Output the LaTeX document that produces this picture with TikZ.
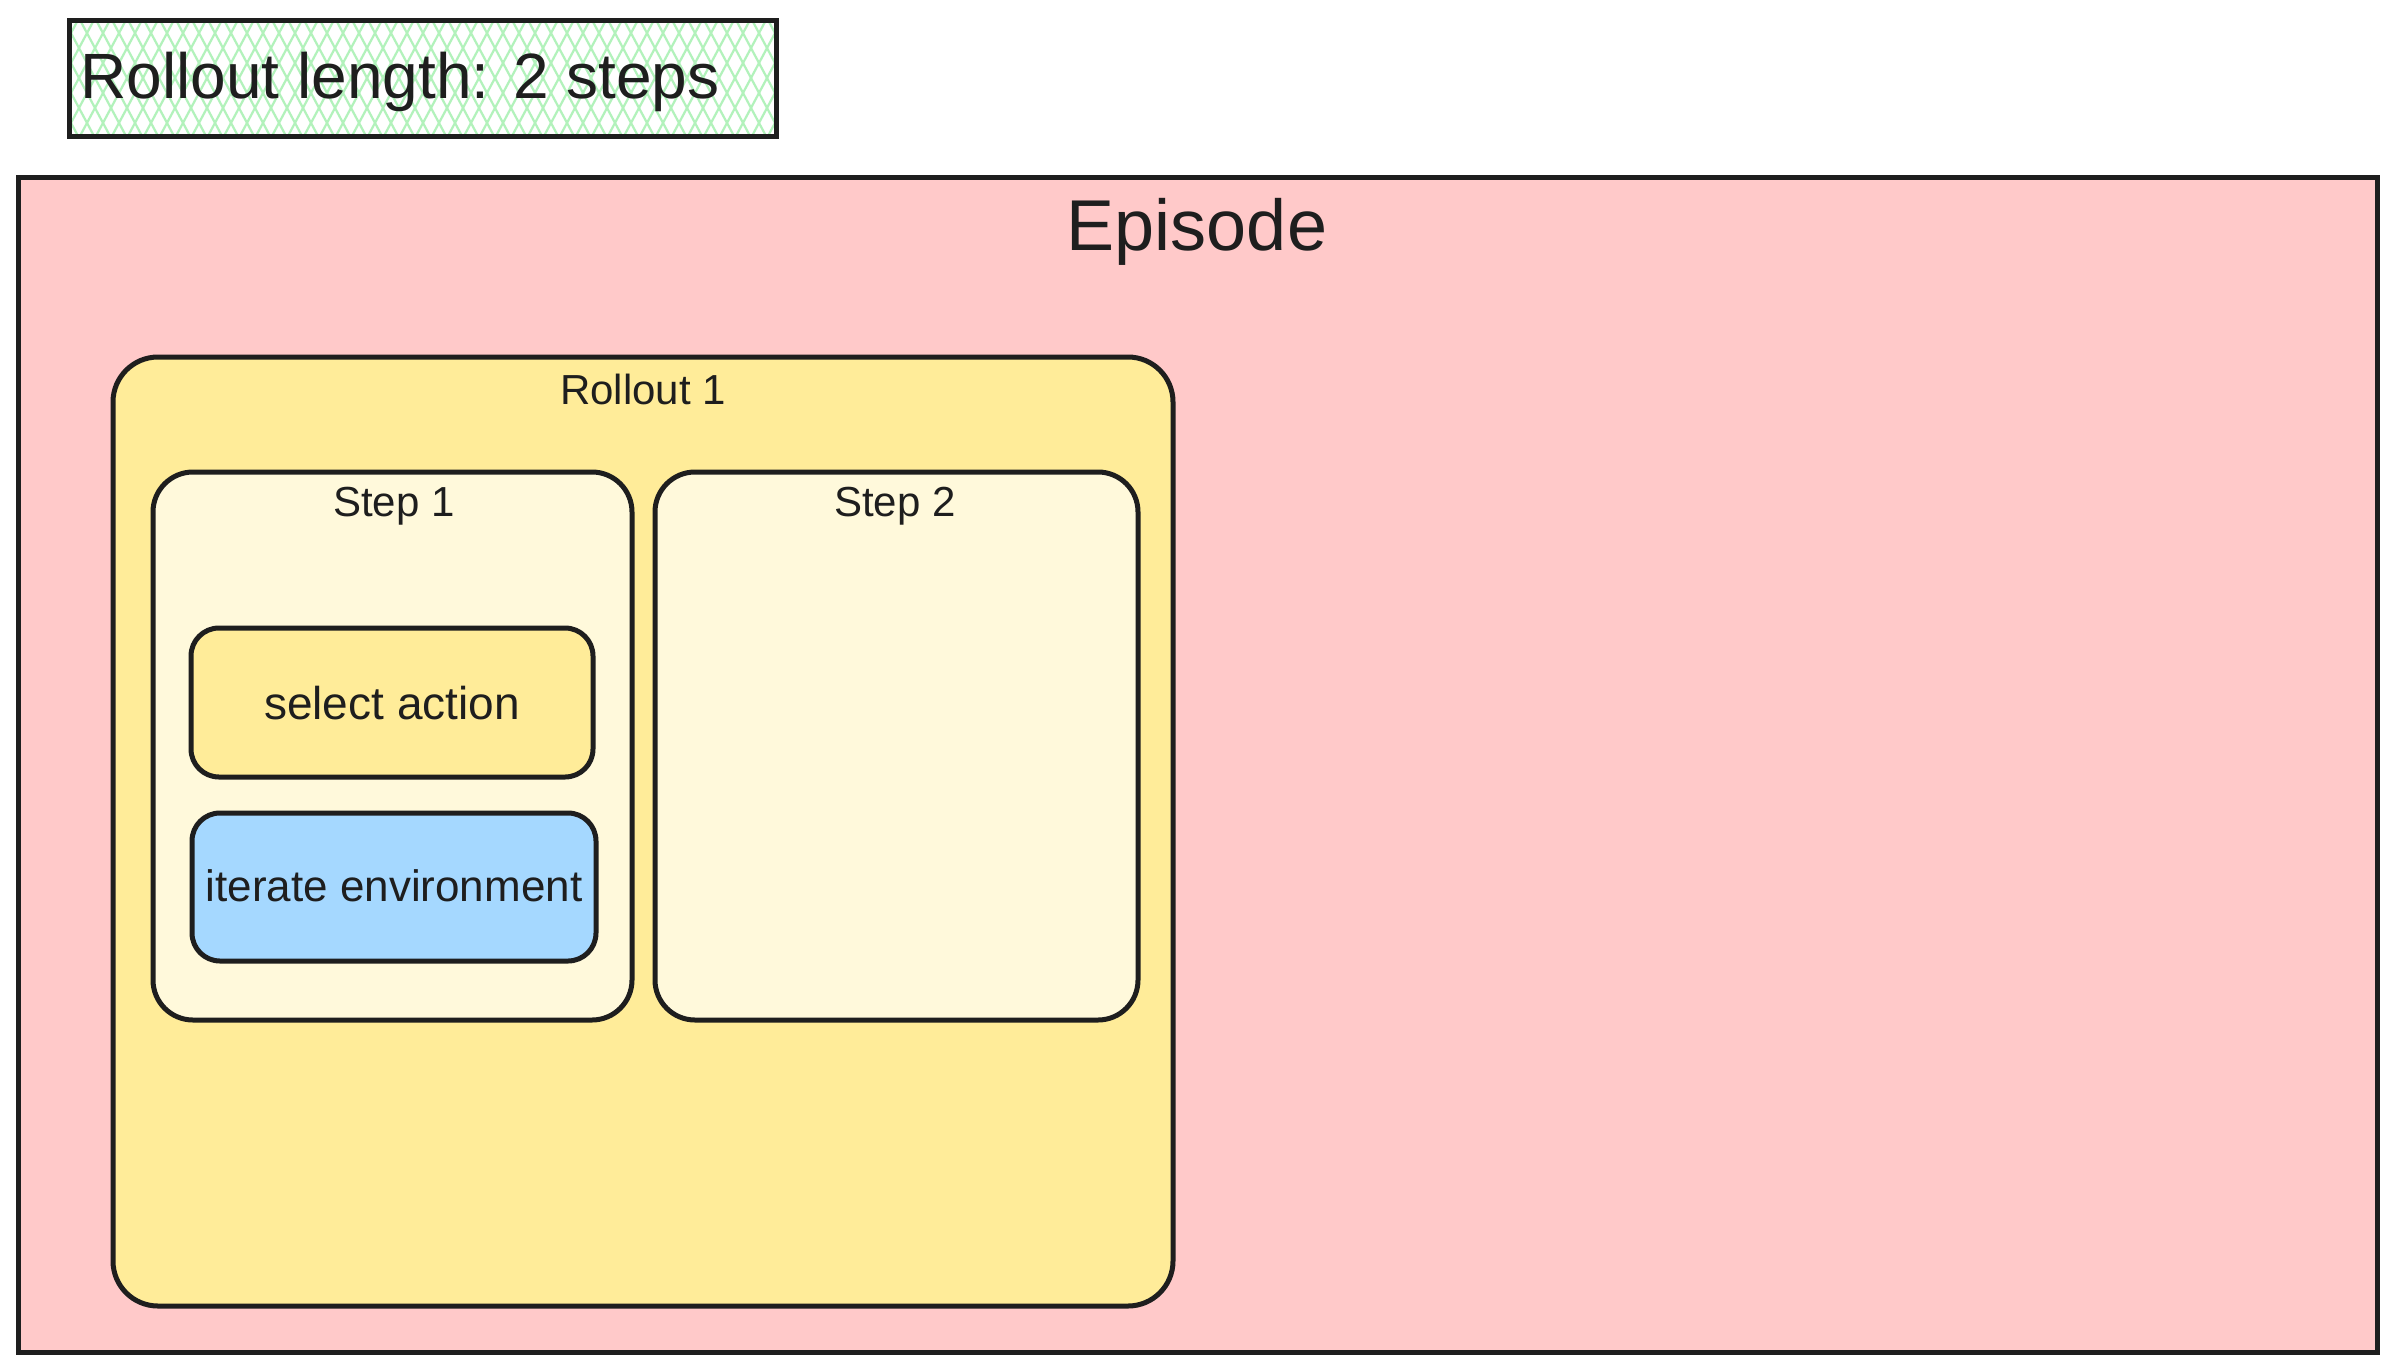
\documentclass[tikz,border=0pt]{standalone}
\usepackage{fontspec}
\setmainfont{Liberation Sans}
\definecolor{inkc}{HTML}{1E1E1E}
\definecolor{pinkc}{HTML}{FFC9C9}
\definecolor{yellowc}{HTML}{FFEC99}
\definecolor{creamc}{HTML}{FFF9DB}
\definecolor{bluec}{HTML}{A5D8FF}
\definecolor{greenc}{HTML}{B2F2BB}
\tikzset{
  boxshape/.style={draw=inkc, line width=5pt, rectangle, inner sep=0pt, outer sep=0pt},
  roundbox/.style={boxshape, rounded corners=#1},
  lbl/.style={text=inkc, inner sep=0pt, font=\fontsize{#1}{#1}\selectfont},
  hatchline/.style={draw=greenc, line width=2.2pt},
}
\begin{document}
\begin{tikzpicture}[x=1pt,y=-1pt]
\useasboundingbox (0,0) rectangle (2395,1369);
\fill[white] (0,0) rectangle (2395,1369);
% title box with cross hatch
\begin{scope}
  \clip (69,20) rectangle (776,136);
  \foreach \xx in {-80,-64,...,860} {
    \draw[hatchline] (\xx,136) -- ({\xx+62},20);
    \draw[hatchline] (\xx,20) -- ({\xx+62},136);
  }
\end{scope}
\node (titlebox) [boxshape, minimum width=707pt, minimum height=116pt] at (422.5,78) {};
\node (titletext) [lbl=64] at (400,82) {Rollout length: 2 steps};
% episode
\node (episode) [boxshape, fill=pinkc, minimum width=2359pt, minimum height=1175pt] at (1197.5,764.5) {};
\node (episodetext) [lbl=72] at (1197,232) {Episode};
% rollout
\node (rollout) [roundbox=45pt, fill=yellowc, minimum width=1060pt, minimum height=949pt] at (643,831.5) {};
\node (rollouttext) [lbl=42] at (643,389) {Rollout 1};
% steps
\node (step1) [roundbox=40pt, fill=creamc, minimum width=479pt, minimum height=548pt] at (392.5,746) {};
\node (step1text) [lbl=42] at (394,506) {Step 1};
\node (step2) [roundbox=40pt, fill=creamc, minimum width=483pt, minimum height=548pt] at (896.5,746) {};
\node (step2text) [lbl=42] at (895,506) {Step 2};
% actions
\node (select) [roundbox=28pt, fill=yellowc, minimum width=402pt, minimum height=149pt] at (392,702.5) {};
\node (selecttext) [lbl=46] at (392,703) {select action};
\node (iterate) [roundbox=28pt, fill=bluec, minimum width=404pt, minimum height=148pt] at (394,887) {};
\node (iteratetext) [lbl=44] at (394,886) {iterate environment};
\end{tikzpicture}
\end{document}
